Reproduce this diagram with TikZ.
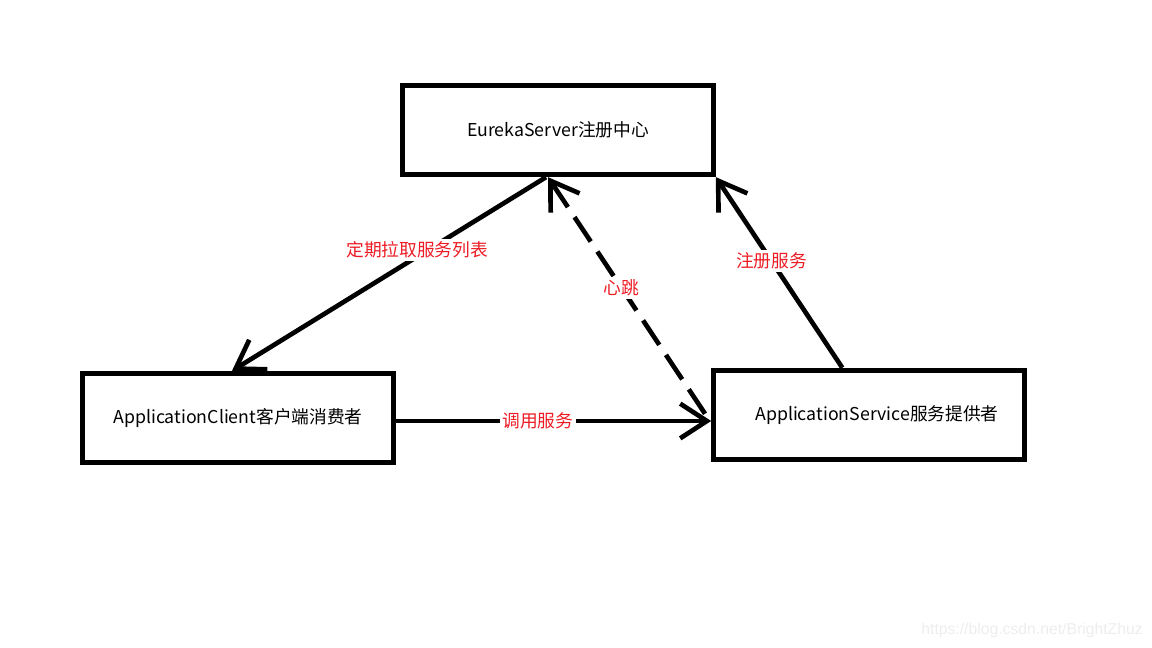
\documentclass[tikz,border=0pt]{standalone}
\usepackage{fontspec}
\setmainfont{Noto Sans CJK SC}
\newfontfamily\urlfont{Liberation Sans}
\usetikzlibrary{arrows.meta}
\definecolor{paintred}{RGB}{237,28,36}
\begin{document}
\begin{tikzpicture}[x=0.75pt,y=-0.75pt,
box/.style={draw,line width=3.75pt,minimum width=233pt,minimum height=67pt,
  font=\fontsize{13.3}{16}\selectfont},
link/.style={line width=3.5pt},
tip/.style={-{Straight Barb[length=20pt,width=26pt]}},
lbl/.style={fill=white,text=paintred,inner sep=2pt,font=\fontsize{13.3}{16}\selectfont}
]
\useasboundingbox (0,0) rectangle (1152,648);
% boxes
\node[box] (eureka) at (558,130) {EurekaServer注册中心};
\node[box] (client) at (238,418) {ApplicationClient客户端消费者};
\node[box] (service) at (869,415) {\hspace{12pt}ApplicationService服务提供者};
% links
\draw[link,tip] ([xshift=-9pt]eureka.south) -- ([xshift=-4.5pt]client.north)
  node[lbl,pos=0.41,yshift=5pt] {定期拉取服务列表};
\draw[link,dash pattern=on 22pt off 9pt,
  {Straight Barb[length=20pt,width=26pt]}-] ([xshift=-7.5pt]eureka.south) -- ([yshift=-6pt]service.west)
  node[lbl,pos=0.45] {心跳};
\draw[link,tip] ([xshift=-20pt]service.north) -- (eureka.south east)
  node[lbl,pos=0.56] {注册服务};
\draw[link,tip] ([yshift=-2.25pt]client.east) -- ([yshift=-2.25pt]client.east -| service.west)
  node[lbl,pos=0.45] {调用服务};
% watermark
\node[text=black!7,font=\urlfont\fontsize{11.8}{14}\selectfont] (mark) at (1032,630)
  {https://blog.csdn.net/BrightZhuz};
\end{tikzpicture}
\end{document}
